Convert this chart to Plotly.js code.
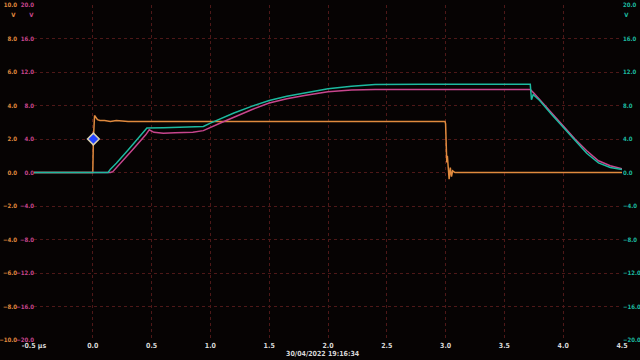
<!DOCTYPE html>
<html>
<head>
<meta charset="utf-8">
<script src="https://cdn.plot.ly/plotly-3.0.1.min.js"></script>
<style>
html,body{margin:0;padding:0;background:#060303;}
#chart{width:640px;height:360px;}
#chart text{font-stretch:condensed;}
</style>
</head>
<body>
<div id="chart"></div>
<script>
// Channel A (orange, left outer axis, V)
const timeA = [-0.5, -0.2, 0.0, 0.005, 0.015, 0.025, 0.04, 0.06, 0.1, 0.15, 0.2, 0.3, 0.5, 0.8, 1.0, 1.3, 1.6, 2.0, 2.3, 2.6, 2.9, 2.995, 3.0, 3.005, 3.01, 3.015, 3.02, 3.03, 3.04, 3.05, 3.06, 3.08, 3.3, 3.7, 4.1, 4.5];
const voltA = [0, 0, 0, 2.0, 3.4, 3.3, 3.15, 3.1, 3.1, 3.05, 3.1, 3.05, 3.05, 3.05, 3.05, 3.05, 3.05, 3.05, 3.05, 3.05, 3.05, 3.05, 2.9, 1.1, 0.6, 1.0, 0.2, -0.4, 0.3, -0.25, 0.1, 0, 0, 0, 0, 0];
// Channel B (magenta, left inner axis, V)
const timeB = [-0.5, 0.0, 0.15, 0.17, 0.25, 0.35, 0.45, 0.48, 0.52, 0.6, 0.7, 0.85, 0.94, 1.0, 1.1, 1.2, 1.35, 1.5, 1.65, 1.8, 2.0, 2.2, 2.4, 2.8, 3.2, 3.6, 3.72, 3.75, 3.8, 3.9, 4.0, 4.1, 4.2, 4.3, 4.4, 4.5];
const voltB = [0, 0, 0, 0.1, 1.3, 2.9, 4.5, 5.1, 4.8, 4.7, 4.75, 4.8, 5.0, 5.4, 6.0, 6.6, 7.5, 8.3, 8.8, 9.2, 9.65, 9.85, 9.9, 9.9, 9.9, 9.9, 9.9, 9.5, 8.7, 7.1, 5.6, 4.0, 2.6, 1.4, 0.8, 0.45];
// Channel C (teal, right axis, V)
const timeC = [-0.5, 0.0, 0.13, 0.15, 0.2, 0.3, 0.4, 0.46, 0.6, 0.8, 0.94, 1.0, 1.1, 1.2, 1.35, 1.5, 1.65, 1.8, 2.0, 2.2, 2.4, 2.8, 3.2, 3.6, 3.72, 3.73, 3.745, 3.76, 3.8, 3.9, 4.0, 4.1, 4.2, 4.3, 4.4, 4.5];
const voltC = [0, 0, 0, 0.4, 1.1, 2.7, 4.3, 5.3, 5.35, 5.4, 5.5, 5.9, 6.5, 7.1, 7.9, 8.6, 9.1, 9.5, 10.0, 10.3, 10.5, 10.55, 10.55, 10.55, 10.55, 8.7, 9.3, 9.1, 8.6, 6.95, 5.4, 3.8, 2.3, 1.15, 0.6, 0.35];
// Trigger marker
const trigTime = [0.005];
const trigVolt = [2.0];
// Tick labels
const xTickVals = [-0.5, 0.0, 0.5, 1.0, 1.5, 2.0, 2.5, 3.0, 3.5, 4.0, 4.5];
const xTickText = ['-0.5 µs', '0.0', '0.5', '1.0', '1.5', '2.0', '2.5', '3.0', '3.5', '4.0', '4.5'];
const yTicksA = [-10, -8, -6, -4, -2, 0, 2, 4, 6, 8, 10];
const yTicksBC = [-20, -16, -12, -8, -4, 0, 4, 8, 12, 16, 20];
const timestamp = '30/04/2022 19:16:34';

const ORANGE = '#e08a3e', MAGENTA = '#c8468e', TEAL = '#1cbaa0';
const GRID = '#4e1818';
const FONT = 'DejaVu Sans, Liberation Sans, sans-serif';
const FS = 7, FSY = 6;
const W = 640, ML = 0, MR = 18, PLOTL = 34;
const paperW = W - ML - MR;
const px = x => (x - ML) / paperW;
const MT = 5, MB = 20, plotH = 360 - MT - MB;
const py = y => 1 - (y - MT) / plotH;

const traces = [
  {x: timeB, y: voltB, yaxis: 'y2', type: 'scatter', mode: 'lines', line: {color: MAGENTA, width: 1.5}, hoverinfo: 'skip'},
  {x: timeC, y: voltC, yaxis: 'y3', type: 'scatter', mode: 'lines', line: {color: TEAL, width: 1.5}, hoverinfo: 'skip'},
  {x: timeA, y: voltA, yaxis: 'y', type: 'scatter', mode: 'lines', line: {color: ORANGE, width: 1.5}, hoverinfo: 'skip'},
  {x: trigTime, y: trigVolt, yaxis: 'y', type: 'scatter', mode: 'markers', marker: {symbol: 'diamond', size: 9, color: '#2442ff', line: {color: '#d8d0b0', width: 1.5}}, hoverinfo: 'skip'}
];

const layout = {
  width: 640, height: 360,
  margin: {l: ML, r: MR, t: MT, b: MB},
  paper_bgcolor: '#060303', plot_bgcolor: '#060303',
  showlegend: false,
  font: {family: FONT, size: FS, color: '#d8d8d8', weight: 'bold'},
  xaxis: {
    domain: [px(PLOTL), 1], range: [-0.5, 4.5],
    tickvals: xTickVals, ticktext: xTickText,
    showgrid: true, gridcolor: GRID, griddash: 'dot', gridwidth: 1,
    zeroline: false, showline: false, ticks: '',
    tickfont: {family: FONT, size: FS, color: '#d8d8d8', weight: 'bold'}
  },
  yaxis: {
    anchor: 'free', position: px(17), side: 'left', range: [-10, 10],
    tickvals: yTicksA, tickformat: '.1f', ticklabelstandoff: 0,
    showgrid: true, gridcolor: GRID, griddash: 'dot', gridwidth: 1,
    zeroline: false, showline: false, ticks: '',
    tickfont: {family: FONT, size: FSY, color: ORANGE, weight: 'bold'}
  },
  yaxis2: {
    overlaying: 'y', anchor: 'x', side: 'left', range: [-20, 20],
    tickvals: yTicksBC, tickformat: '.1f', ticklabelstandoff: -1,
    showgrid: false, zeroline: false, showline: false, ticks: '',
    tickfont: {family: FONT, size: FSY, color: MAGENTA, weight: 'bold'}
  },
  yaxis3: {
    overlaying: 'y', anchor: 'x', side: 'right', range: [-20, 20],
    tickvals: yTicksBC, tickformat: '.1f', ticklabelstandoff: 0,
    showgrid: false, zeroline: false, showline: false, ticks: '',
    tickfont: {family: FONT, size: FSY, color: TEAL, weight: 'bold'}
  },
  annotations: [
    {xref: 'paper', yref: 'paper', x: px(13), y: py(15), text: 'V', showarrow: false, xanchor: 'center', yanchor: 'middle', font: {family: FONT, size: FSY, color: ORANGE, weight: 'bold'}},
    {xref: 'paper', yref: 'paper', x: px(31), y: py(15), text: 'V', showarrow: false, xanchor: 'center', yanchor: 'middle', font: {family: FONT, size: FSY, color: MAGENTA, weight: 'bold'}},
    {xref: 'paper', yref: 'paper', x: px(626), y: py(15), text: 'V', showarrow: false, xanchor: 'center', yanchor: 'middle', font: {family: FONT, size: FSY, color: TEAL, weight: 'bold'}},
    {xref: 'paper', yref: 'paper', x: px(322), y: py(354), text: timestamp, showarrow: false, xanchor: 'center', yanchor: 'middle', font: {family: FONT, size: FS, color: '#d8d8d8', weight: 'bold'}}
  ]
};

Plotly.newPlot('chart', traces, layout, {staticPlot: true, displayModeBar: false});
</script>
</body>
</html>
